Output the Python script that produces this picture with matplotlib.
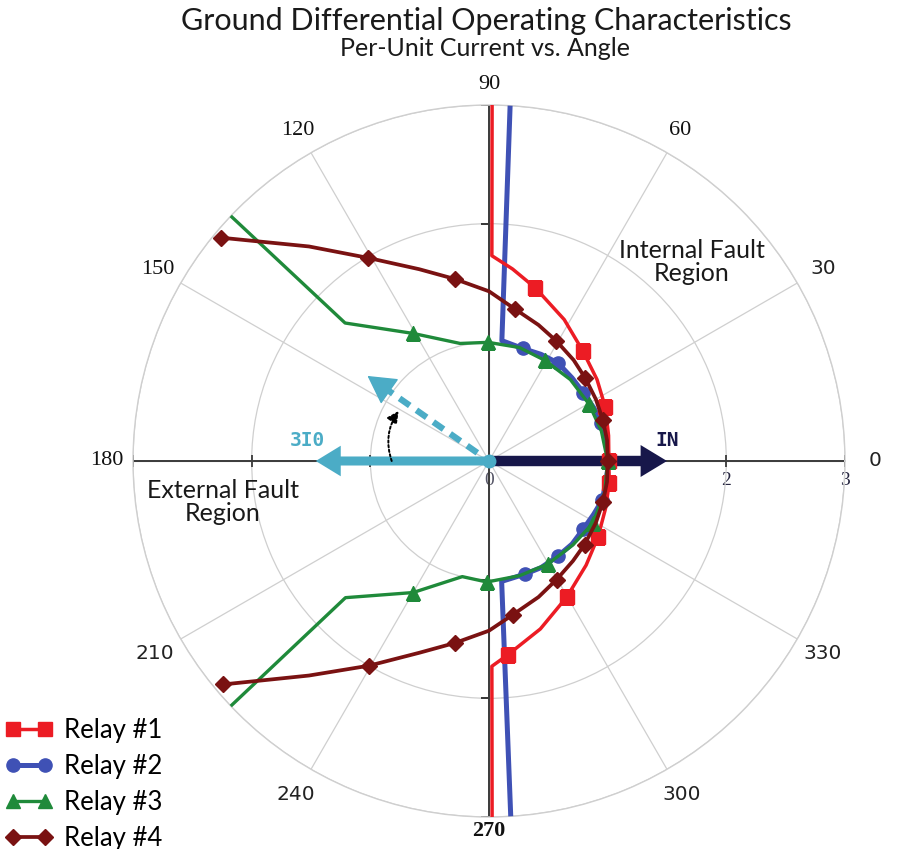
import numpy as np
import matplotlib
matplotlib.use('Agg')
import matplotlib.pyplot as plt
from matplotlib.patches import FancyArrowPatch

# relay characteristics: angle (deg) and magnitude (pu)
relay1_ang = [89.5, 89.2, 83.0, 75.0, 62.0, 49.7, 37.0, 24.8, 12.0, 0.0,
              -10.3, -22.0, -34.9, -47.0, -60.2, -73.0, -84.4, -89.2, -89.5]
relay1_mag = [3.00, 1.73, 1.63, 1.51, 1.35, 1.22, 1.14, 1.08, 1.03, 1.01,
              1.03, 1.06, 1.12, 1.20, 1.32, 1.48, 1.64, 1.73, 3.00]
relay1_marks = [3, 5, 7, 9, 10, 12, 14, 16]

relay2_ang = [86.6, 83.9, 73.3, 64.0, 54.9, 45.0, 35.9, 27.0, 18.6, 9.0, 0.0,
              -9.0, -18.9, -27.0, -35.8, -45.0, -54.0, -64.0, -72.5, -84.0, -86.5]
relay2_mag = [3.00, 1.02, 0.99, 1.00, 1.01, 0.99, 0.98, 0.99, 1.00, 1.00, 1.01,
              1.00, 1.01, 0.99, 0.98, 0.99, 0.99, 1.00, 1.00, 1.02, 3.00]
relay2_marks = [2, 4, 6, 8, 10, 12, 14, 16, 18]

relay3_ang = [136.5, 136.2, 120.7, 103.8, 90.5, 75.0, 61.0, 45.0, 29.5, 15.0, 0.0,
              -15.0, -31.0, -45.0, -60.4, -75.0, -91.0, -103.0, -120.0, -136.4, -136.5]
relay3_mag = [3.00, 1.68, 1.25, 1.02, 1.00, 0.99, 0.97, 0.97, 0.97, 0.98, 1.00,
              1.01, 1.02, 1.00, 1.00, 1.00, 1.02, 1.00, 1.28, 1.67, 3.00]
relay3_marks = [2, 4, 6, 8, 10, 12, 14, 16, 18]

relay4_ang = [140.2, 130.0, 120.7, 110.0, 100.6, 90.0, 80.4, 70.0, 60.7, 50.0, 40.6,
              30.0, 19.8, 10.0, 0.0, -10.0, -19.8, -30.0, -41.2, -50.0, -60.3,
              -70.0, -81.1, -90.0, -100.6, -110.0, -120.4, -130.0, -140.0]
relay4_mag = [2.94, 2.36, 1.99, 1.72, 1.56, 1.43, 1.30, 1.22, 1.16, 1.11, 1.07,
              1.04, 1.02, 1.01, 1.00, 1.01, 1.02, 1.04, 1.07, 1.10, 1.15,
              1.22, 1.31, 1.43, 1.56, 1.72, 2.00, 2.36, 2.93]
relay4_marks = list(range(0, 29, 2))

relay_names = ['Relay #1', 'Relay #2', 'Relay #3', 'Relay #4']

# phasors: angle (deg), magnitude (pu)
in_ang, in_mag = 0.0, 1.50
i0_ang, i0_mag = 180.0, 1.46
i0_shift_ang, i0_shift_mag = 145.0, 1.25

angle_ticks = [0, 30, 60, 90, 120, 150, 180, 210, 240, 270, 300, 330]
angle_labels = [str(a) for a in angle_ticks]
serif_angles = [60, 90, 120, 150, 180]
r_ticks = [0, 1, 2, 3]
r_labels = ['0', '1', '2', '3']

RED = '#ec1c24'
BLUE = '#3f51b5'
GREEN = '#1f8a3a'
DRED = '#7a1212'
NAVY = '#17174a'
LBLUE = '#4bacc6'
GRID = '#cfcfcf'
AXC = '#3a3a3a'

fig = plt.figure(figsize=(9, 8.49), dpi=100)
ax = fig.add_axes([(489 - 356) / 900, (849 - 461 - 356) / 849, 712 / 900, 712 / 849],
                  projection='polar')
ax.set_ylim(0, 3)
ax.set_yticks([1, 2, 3])
ax.set_yticklabels([])
ax.set_thetagrids(angle_ticks, labels=[''] * len(angle_ticks))
ax.grid(True, color=GRID, lw=0.9)
ax.spines['polar'].set_color(GRID)
ax.spines['polar'].set_linewidth(1.0)

# black axes through the origin with tick marks
for a in [0, 180]:
    ax.plot(np.deg2rad([a, a]), [0, 3], color=AXC, lw=1.4, zorder=2)
    ax.plot(np.deg2rad([a] * 3), [1, 2, 3], ls='none', marker='|', ms=9,
            mew=1.3, color=AXC, zorder=2)
for a in [90, 270]:
    ax.plot(np.deg2rad([a, a]), [0, 3], color=AXC, lw=1.4, zorder=2)
    ax.plot(np.deg2rad([a] * 3), [1, 2, 3], ls='none', marker=0, ms=6,
            mew=1.3, color=AXC, zorder=2)

# angle labels
for a, lbl in zip(angle_ticks, angle_labels):
    if a == 270:
        ax.text(np.deg2rad(a), 3.12, lbl, ha='center', va='center', fontsize=16,
                family='Liberation Serif', weight='bold', color='#111111')
    elif a in serif_angles:
        r = 3.17 if a == 90 else 3.22
        ax.text(np.deg2rad(a), r, lbl, ha='center', va='center', fontsize=16,
                family='Liberation Serif', color='#111111')
    else:
        ax.text(np.deg2rad(a), 3.25, lbl, ha='center', va='center', fontsize=14.5,
                family='DejaVu Sans', color='#222222')

# radial labels under the 0-degree axis
for r, lbl in zip(r_ticks, r_labels):
    ax.annotate(lbl, xy=(0, r), xytext=(0, -14), textcoords='offset points',
                ha='center', va='center', fontsize=14, family='Liberation Serif',
                color='#555566' if r == 0 else '#262640', zorder=1)

# phasor arrows
ax.add_patch(FancyArrowPatch(posA=(np.deg2rad(in_ang), 0), posB=(np.deg2rad(in_ang), in_mag),
                             transform=ax.transData,
                             arrowstyle='simple,head_length=1.9,head_width=2.3,tail_width=0.75',
                             mutation_scale=10, shrinkA=0, shrinkB=0, color=NAVY, lw=0, zorder=3))
ax.add_patch(FancyArrowPatch(posA=(np.deg2rad(i0_ang), 0), posB=(np.deg2rad(i0_ang), i0_mag),
                             transform=ax.transData,
                             arrowstyle='simple,head_length=1.8,head_width=2.2,tail_width=0.65',
                             mutation_scale=10, shrinkA=0, shrinkB=0, color=LBLUE, lw=0, zorder=3))
ax.plot([0], [0], marker='o', ms=9, color=LBLUE, zorder=3)
ax.plot(np.deg2rad([i0_shift_ang, i0_shift_ang]), [0.12, 1.04], ls=(0, (2.0, 1.3)),
        lw=4.5, color=LBLUE, zorder=3)
ax.add_patch(FancyArrowPatch(posA=(np.deg2rad(i0_shift_ang), 1.0),
                             posB=(np.deg2rad(i0_shift_ang), i0_shift_mag),
                             transform=ax.transData, arrowstyle='-|>,head_length=1.8,head_width=1.0',
                             mutation_scale=10, shrinkA=0, shrinkB=0, color=LBLUE, lw=1, zorder=3))
ax.add_patch(FancyArrowPatch(posA=(np.pi, 0.82), posB=(np.deg2rad(151), 0.87),
                             transform=ax.transData, connectionstyle='arc3,rad=-0.25',
                             arrowstyle='-|>,head_length=0.7,head_width=0.35', mutation_scale=10,
                             shrinkA=0, shrinkB=0, color='black', lw=1.4, ls=(0, (1.2, 1.2)),
                             zorder=3))
ax.annotate('IN', xy=(np.deg2rad(in_ang), in_mag), xytext=(0, 14.5), textcoords='offset points',
            ha='center', va='center', fontsize=14, family='DejaVu Sans Mono', weight='bold',
            color=NAVY)
ax.annotate('3I0', xy=(np.deg2rad(i0_ang), i0_mag), xytext=(-6, 14.5), textcoords='offset points',
            ha='center', va='center', fontsize=14, family='DejaVu Sans Mono', weight='bold',
            color=LBLUE)

# relay curves
h1, = ax.plot(np.deg2rad(relay1_ang), relay1_mag, color=RED, lw=2.5, marker='s', ms=10.5,
              markevery=relay1_marks, zorder=5)
h2, = ax.plot(np.deg2rad(relay2_ang), relay2_mag, color=BLUE, lw=3.6, marker='o', ms=9.5,
              markevery=relay2_marks, zorder=4)
h3, = ax.plot(np.deg2rad(relay3_ang), relay3_mag, color=GREEN, lw=2.4, marker='^', ms=10.5,
              markevery=relay3_marks, zorder=5)
h4, = ax.plot(np.deg2rad(relay4_ang), relay4_mag, color=DRED, lw=2.7, marker='D', ms=8.5,
              markevery=relay4_marks, zorder=6)

fig.text(486 / 900, 1 - 21 / 849, 'Ground Differential Operating Characteristics',
         ha='center', va='center', fontsize=22, family='Lato', color='#1a1a1a')
fig.text(485 / 900, 1 - 49 / 849, 'Per-Unit Current vs. Angle',
         ha='center', va='center', fontsize=18, family='Lato', color='#1a1a1a')
fig.text(692 / 900, 1 - 262 / 849, 'Internal Fault\nRegion', ha='center', va='center',
         fontsize=18, family='Lato', color='#1a1a1a', linespacing=1.05)
fig.text(223 / 900, 1 - 502 / 849, 'External Fault\nRegion', ha='center', va='center',
         fontsize=18, family='Lato', color='#1a1a1a', linespacing=1.05)

fig.legend([h1, h2, h3, h4], relay_names, loc='upper left', bbox_to_anchor=(0.0, 1 - 713 / 849),
           frameon=False, prop={'family': 'Lato', 'size': 18.5}, numpoints=2,
           handlelength=1.85, handletextpad=0.45, labelspacing=0.42, borderaxespad=0,
           borderpad=0.2)

fig.savefig('out.png', dpi=100)
